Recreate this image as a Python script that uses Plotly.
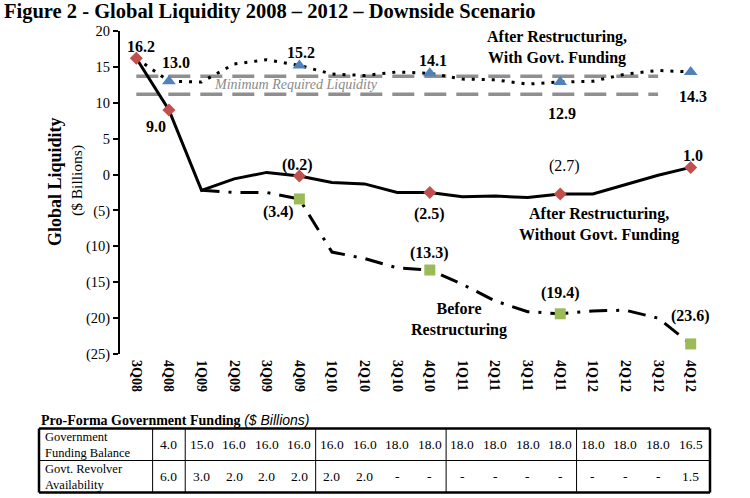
import plotly.graph_objects as go

# ---------------- data ----------------
quarters = ["3Q08", "4Q08", "1Q09", "2Q09", "3Q09", "4Q09", "1Q10", "2Q10", "3Q10",
            "4Q10", "1Q11", "2Q11", "3Q11", "4Q11", "1Q12", "2Q12", "3Q12", "4Q12"]

with_govt = [16.2, 13.0, 12.9, 15.4, 16.0, 15.2, 14.0, 13.8, 14.3,
             14.1, 13.3, 13.2, 12.6, 12.9, 13.0, 14.0, 14.5, 14.3]
without_govt = [16.2, 9.0, -2.2, -0.6, 0.3, -0.2, -1.1, -1.3, -2.5,
                -2.5, -3.1, -3.0, -3.2, -2.7, -2.7, -1.4, -0.1, 1.0]
before_restr = [None, None, -2.2, -2.5, -2.5, -3.4, -10.8, -11.7, -13.0,
                -13.3, -15.3, -17.6, -19.1, -19.4, -19.0, -18.9, -20.0, -23.6]
min_liq_upper = [13.7, 13.7, 13.7, 13.7, 13.7, 13.7, 13.7, 13.7, 13.7,
                 13.7, 13.7, 13.7, 13.7, 13.7, 13.7, 13.7, 13.7, None]
min_liq_lower = [11.2, 11.2, 11.2, 11.2, 11.2, 11.2, 11.2, 11.2, 11.2,
                 11.2, 11.2, 11.2, 11.2, 11.2, 11.2, 11.2, 11.2, None]

diamond_idx = [0, 1, 5, 9, 13, 17]
triangle_idx = [1, 5, 9, 13, 17]
square_idx = [5, 9, 13, 17]

y_tick_vals = [-25, -20, -15, -10, -5, 0, 5, 10, 15, 20]
y_tick_text = ["(25)", "(20)", "(15)", "(10)", "(5)", "0", "5", "10", "15", "20"]

table_title = "Pro-Forma Government Funding"
table_unit = "($ Billions)"
table_row_labels = ["Government<br>Funding Balance", "Govt. Revolver<br>Availability"]
funding_balance = ["4.0", "15.0", "16.0", "16.0", "16.0", "16.0", "16.0", "18.0", "18.0",
                   "18.0", "18.0", "18.0", "18.0", "18.0", "18.0", "18.0", "16.5"]
revolver_avail = ["6.0", "3.0", "2.0", "2.0", "2.0", "2.0", "2.0", "-", "-",
                  "-", "-", "-", "-", "-", "-", "-", "1.5"]
table_quarters = quarters[1:]
table_group_breaks = ["4Q08", "4Q09", "4Q10", "4Q11"]   # vertical rule after these

# ---------------- layout geometry ----------------
W, H = 750, 498
L, R, T, B = 120, 43, 31, 144
PW, PH = W - L - R, H - T - B
SERIF = "Liberation Serif, Times New Roman, serif"


def px_x(px):
    return (px - L) / PW


def px_y(py):
    return (H - B - py) / PH


x = list(range(len(quarters)))

fig = go.Figure()

for vals in (min_liq_upper, min_liq_lower):
    fig.add_trace(go.Scatter(x=x, y=vals, mode="lines",
                             line=dict(color="#8f8f8f", width=3.5, dash="22px,10px"),
                             hoverinfo="skip", showlegend=False))

fig.add_trace(go.Scatter(x=x, y=with_govt, mode="lines",
                         line=dict(color="black", width=3, dash="3px,7px"),
                         showlegend=False))
fig.add_trace(go.Scatter(x=x, y=before_restr, mode="lines",
                         line=dict(color="black", width=3, dash="18px,9px,3px,9px"),
                         showlegend=False))
fig.add_trace(go.Scatter(x=x, y=without_govt, mode="lines",
                         line=dict(color="black", width=3),
                         showlegend=False))

fig.add_trace(go.Scatter(x=triangle_idx, y=[with_govt[i] for i in triangle_idx], mode="markers",
                         marker=dict(symbol="triangle-up", size=12, color="#4F81BD"),
                         showlegend=False))
fig.add_trace(go.Scatter(x=diamond_idx, y=[without_govt[i] for i in diamond_idx], mode="markers",
                         marker=dict(symbol="diamond", size=10, color="#C0504D"),
                         showlegend=False))
fig.add_trace(go.Scatter(x=square_idx, y=[before_restr[i] for i in square_idx], mode="markers",
                         marker=dict(symbol="square", size=11, color="#9BBB59"),
                         showlegend=False))


def fmt(v):
    return f"({abs(v):.1f})" if v < 0 else f"{v:.1f}"


annotations = []


def lab(series, i, dx, dy, bold=True):
    v = series[i]
    annotations.append(dict(x=i, y=v, xref="x", yref="y", text=fmt(v), showarrow=False,
                            xanchor="center", yanchor="middle",
                            xshift=dx, yshift=dy,
                            font=dict(family=SERIF, size=16, color="black",
                                      weight="bold" if bold else "normal")))


# value labels (pixel offsets from their marker)
lab(without_govt, 0, 5, 12)
lab(without_govt, 1, -13, -17)
lab(with_govt, 1, 7, 19)
lab(with_govt, 5, 2, 13)
lab(with_govt, 9, 3, 13)
lab(with_govt, 13, 2, -32)
lab(with_govt, 17, 2, -25)
lab(without_govt, 5, -2, 11)
lab(without_govt, 9, 0, -21)
lab(without_govt, 13, 4, 28, bold=False)
lab(without_govt, 17, 2, 12)
lab(before_restr, 5, -21, -13)
lab(before_restr, 9, 0, 17)
lab(before_restr, 13, 0, 21)
lab(before_restr, 17, 0, 28)

# series names
for txt, xi, yv in [("After Restructuring,<br>With Govt. Funding", 12.9, 17.75),
                    ("After Restructuring,<br>Without Govt. Funding", 14.2, -6.9),
                    ("Before<br>Restructuring", 9.9, -20.2)]:
    annotations.append(dict(x=xi, y=yv, xref="x", yref="y", text=txt, showarrow=False,
                            align="center", xanchor="center", yanchor="middle",
                            font=dict(family=SERIF, size=16, color="black", weight="bold")))

annotations.append(dict(x=4.9, y=12.5, xref="x", yref="y", text="<i>Minimum Required Liquidity</i>",
                        showarrow=False, xanchor="center", yanchor="middle",
                        font=dict(family=SERIF, size=14, color="#8a8a8a")))

# y axis title
annotations.append(dict(x=px_x(55), y=px_y(182), xref="paper", yref="paper", text="Global Liquidity",
                        textangle=-90, showarrow=False, xanchor="center", yanchor="middle",
                        font=dict(family=SERIF, size=18, color="black", weight="bold")))
annotations.append(dict(x=px_x(77), y=px_y(181), xref="paper", yref="paper", text="($ Billions)",
                        textangle=-90, showarrow=False, xanchor="center", yanchor="middle",
                        font=dict(family=SERIF, size=15.5, color="black")))

# ---------------- table ----------------
annotations.append(dict(x=px_x(39), y=px_y(420), xref="paper", yref="paper",
                        xanchor="left", yanchor="middle",
                        text=f"<b>{table_title}</b> <span style='font-family:Liberation Sans, Arial'><i>{table_unit}</i></span>",
                        showarrow=False, font=dict(family=SERIF, size=14, color="black")))
row_y = [px_y(444.5), px_y(476.5)]
for r, lbl in enumerate(table_row_labels):
    annotations.append(dict(x=px_x(43), y=row_y[r], xref="paper", yref="paper",
                            xanchor="left", yanchor="middle",
                            align="left", text=lbl, showarrow=False,
                            font=dict(family=SERIF, size=12.5, color="black")))
for r, row in enumerate([funding_balance, revolver_avail]):
    for c, val in enumerate(row):
        annotations.append(dict(x=quarters.index(table_quarters[c]), y=row_y[r], xref="x", yref="paper",
                                xanchor="center", yanchor="middle",
                                text=val, showarrow=False,
                                font=dict(family=SERIF, size=13.5, color="black")))

shapes = []
tl, tr = px_x(39), px_x(710)
ty0, ty1, ty2 = px_y(428.5), px_y(460.5), px_y(492.5)
shapes.append(dict(type="line", xref="paper", yref="paper", x0=tl, x1=tr, y0=ty0, y1=ty0,
                   line=dict(color="black", width=2.5)))
shapes.append(dict(type="line", xref="paper", yref="paper", x0=tl, x1=tr, y0=ty1, y1=ty1,
                   line=dict(color="black", width=1)))
shapes.append(dict(type="line", xref="paper", yref="paper", x0=tl, x1=tr, y0=ty2, y1=ty2,
                   line=dict(color="black", width=2.5)))
for xx in (tl, tr):
    shapes.append(dict(type="line", xref="paper", yref="paper", x0=xx, x1=xx, y0=ty0, y1=ty2,
                       line=dict(color="black", width=2.5)))
first_col = quarters.index(table_quarters[0])
shapes.append(dict(type="line", xref="x", yref="paper", x0=first_col - 0.5, x1=first_col - 0.5,
                   y0=ty0, y1=ty2, line=dict(color="black", width=1)))
for q in table_group_breaks:
    xb = quarters.index(q) + 0.5
    shapes.append(dict(type="line", xref="x", yref="paper", x0=xb, x1=xb, y0=ty0, y1=ty2,
                       line=dict(color="black", width=1)))

zero_pos = (0 - y_tick_vals[0]) / (y_tick_vals[-1] - y_tick_vals[0])

fig.update_layout(
    width=W, height=H,
    margin=dict(l=L, r=R, t=T, b=B),
    paper_bgcolor="white", plot_bgcolor="white",
    showlegend=False,
    title=dict(text="<b>Figure 2 - Global Liquidity 2008 – 2012 – Downside Scenario</b>",
               x=4 / W, xanchor="left", y=1 - 11 / H, yanchor="middle",
               font=dict(family=SERIF, size=20.5, color="black")),
    xaxis=dict(range=[-0.5, len(quarters) - 0.5], tickvals=x, ticktext=quarters, tickangle=90,
               showline=False, ticks="", showgrid=False, zeroline=False, ticklabelstandoff=5,
               tickfont=dict(family=SERIF, size=14, color="black", weight="bold")),
    xaxis2=dict(overlaying="x", anchor="free", position=zero_pos, side="bottom",
                range=[-0.5, len(quarters) - 0.5],
                tickvals=[k - 0.5 for k in range(len(quarters) + 1)],
                showticklabels=False, ticks="inside", ticklen=6, tickwidth=1.5, tickcolor="black",
                showline=True, linecolor="black", linewidth=2, showgrid=False, zeroline=False),
    yaxis=dict(range=[y_tick_vals[0], y_tick_vals[-1]], tickvals=y_tick_vals, ticktext=y_tick_text,
               ticks="outside", ticklen=5, tickwidth=1.5, tickcolor="black",
               showline=True, linecolor="black", linewidth=2, showgrid=False, zeroline=False),
    annotations=annotations,
    shapes=shapes,
)
fig.update_yaxes(tickfont=dict(family=SERIF, size=14.5, color="black"))

fig.write_html("out.html", config={"displayModeBar": False},
               post_script="document.body.style.margin='0';document.body.style.padding='0';")
